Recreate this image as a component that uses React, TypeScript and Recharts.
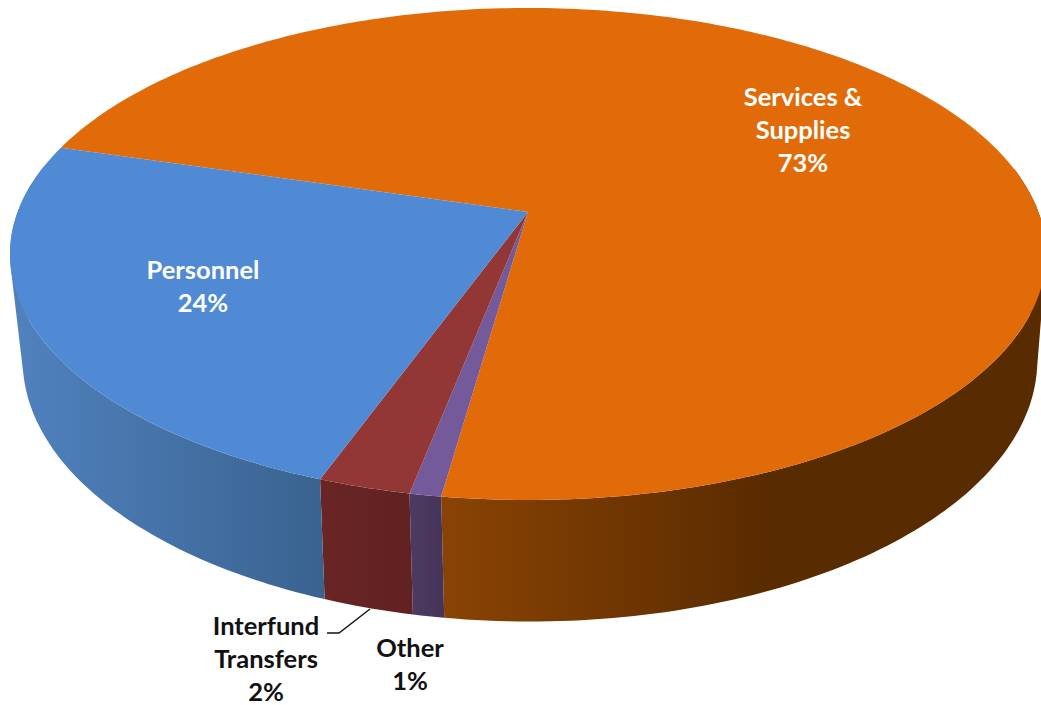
import React from "react";
import { PieChart, Pie } from "recharts";

const categories = ["Services & Supplies", "Other", "Interfund Transfers", "Personnel"];
const values = [72.7, 0.84, 2.46, 24];
const labelLines = [["Services &", "Supplies"], ["Other"], ["Interfund", "Transfers"], ["Personnel"]];

const topColors = ["#e16b08", "#745a9a", "#933636", "#508ad4"];
const wallStart = ["#8a4304", "#4c3a63", "#692424", "#5081bd"];
const wallEnd = ["#592b00", "#463459", "#612222", "#39628f"];
const wallRange = [[441, 770], [413, 441], [325, 413], [20, 325]];
const labelBaselines = [[803, 106], [410, 657], [266, 635], [203, 279]];
const labelColors = ["#ffffff", "#111111", "#111111", "#ffffff"];

const tableData = categories.map((name, i) => ({ name, value: values[i] }));

const TOP = { k: 0.1707, ryRatio: 0.468 };
const BASE = { dx: 2, dy: 101, scale: 0.9777, k: 0.18, ryRatio: 0.507 };

type Pt = [number, number];

function project(cx: number, cy: number, r: number, ryRatio: number, k: number, deg: number): Pt {
  const a = (deg * Math.PI) / 180;
  const x = Math.cos(a);
  const y = -Math.sin(a);
  const w = 1 - k * y;
  return [cx + (r * x) / w, cy + (r * ryRatio * y) / w];
}

const toPath = (pts: Pt[]) =>
  pts.map((p, i) => `${i ? "L" : "M"}${p[0].toFixed(1)},${p[1].toFixed(1)}`).join(" ") + " Z";

function orient(q: Pt[]): Pt[] {
  let area = 0;
  q.forEach((p, i) => {
    const n = q[(i + 1) % q.length];
    area += p[0] * n[1] - n[0] * p[1];
  });
  return area < 0 ? [...q].reverse() : q;
}

function SliceShape(props: any) {
  const { cx, cy, outerRadius, startAngle, endAngle, name, payload } = props;
  const idx = categories.indexOf(name ?? payload?.name);
  const steps = Math.max(4, Math.ceil(Math.abs(endAngle - startAngle)));
  const angles: number[] = [];
  for (let i = 0; i <= steps; i++) angles.push(startAngle + ((endAngle - startAngle) * i) / steps);
  const top = angles.map((d) => project(cx, cy, outerRadius, TOP.ryRatio, TOP.k, d));
  const visible = angles.filter((d) => -Math.sin((d * Math.PI) / 180) >= -0.2);
  const wallTop = visible.map((d) => project(cx, cy, outerRadius, TOP.ryRatio, TOP.k, d));
  const wallBase = visible.map((d) =>
    project(cx + BASE.dx, cy + BASE.dy, outerRadius * BASE.scale, BASE.ryRatio, BASE.k, d)
  );
  const quads: string[] = [];
  for (let i = 0; i + 1 < visible.length; i++) {
    quads.push(toPath(orient([wallTop[i], wallTop[i + 1], wallBase[i + 1], wallBase[i]])));
  }
  return (
    <g>
      {quads.length > 0 && <path d={quads.join(" ")} fill={`url(#wall${idx})`} fillRule="nonzero" stroke="none" />}
      <path d={toPath([[cx, cy], ...top])} fill={topColors[idx]} stroke="none" />
    </g>
  );
}

function SliceLabel(props: any) {
  const { name, percent } = props;
  const idx = categories.indexOf(name);
  const [x, y0] = labelBaselines[idx];
  const lines = [...labelLines[idx], `${Math.round(percent * 100)}%`];
  return (
    <g>
      {name === "Interfund Transfers" && (
        <polyline points="327,633 339,633 370,609" fill="none" stroke="#111111" strokeWidth={1.4} />
      )}
      <text
        x={x}
        y={y0}
        textAnchor="middle"
        fontFamily="Lato, sans-serif"
        fontWeight={700}
        fontSize={25.5}
        fill={labelColors[idx]}
      >
        {lines.map((t, i) => (
          <tspan key={i} x={x} y={y0 + i * 33.2}>
            {t}
          </tspan>
        ))}
      </text>
    </g>
  );
}

export default function App() {
  return (
    <div style={{ position: "absolute", left: 0, top: 0, width: 1041, height: 705, overflow: "hidden" }}>
      <PieChart width={1041} height={705} margin={{ top: 0, right: 0, bottom: 0, left: 0 }}>
        <defs>
          {categories.map((_, i) => (
            <linearGradient
              key={i}
              id={`wall${i}`}
              gradientUnits="userSpaceOnUse"
              x1={wallRange[i][0]}
              x2={wallRange[i][1]}
              y1={0}
              y2={0}
            >
              <stop offset="0%" stopColor={wallStart[i]} />
              <stop offset="100%" stopColor={wallEnd[i]} />
            </linearGradient>
          ))}
        </defs>
        <Pie
          data={tableData}
          dataKey="value"
          nameKey="name"
          cx={528}
          cy={212}
          innerRadius={0}
          outerRadius={510.4}
          startAngle={163.6}
          endAngle={-196.4}
          paddingAngle={0}
          stroke="none"
          isAnimationActive={false}
          shape={SliceShape}
          label={SliceLabel}
          labelLine={false}
        />
      </PieChart>
    </div>
  );
}
